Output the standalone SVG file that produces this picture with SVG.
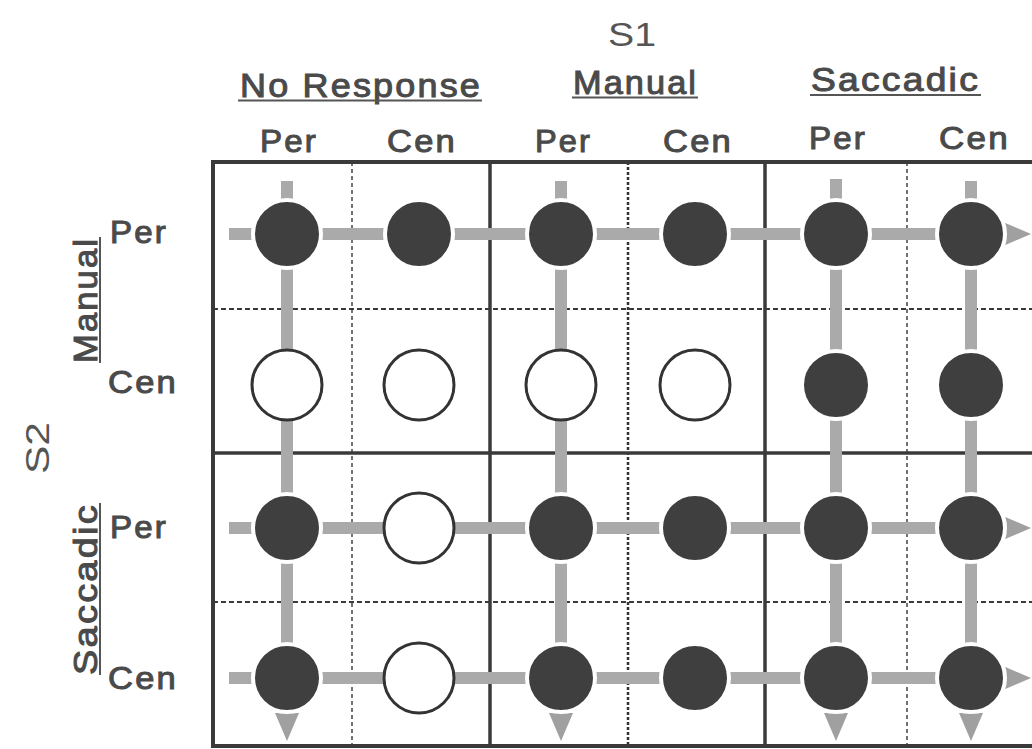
<svg xmlns="http://www.w3.org/2000/svg" width="1032" height="749" viewBox="0 0 1032 749">
<style>
.lbl{font-family:"Liberation Sans",Arial,sans-serif;fill:#4a4a4a;stroke:#4a4a4a;stroke-width:1;letter-spacing:2px;}
.big{font-family:"Liberation Sans",Arial,sans-serif;fill:#555;font-size:34px;}
.grp{font-size:33px;}
.sub{font-size:31px;}
.ul{stroke:#555;stroke-width:2;}
.frame{fill:none;stroke:#3a3a3a;stroke-width:4;}
.solid{stroke:#3a3a3a;stroke-width:3.5;}
.dash{stroke:#444;stroke-width:1.5;stroke-dasharray:4 3;}
.dot{stroke:#333;stroke-width:2.5;stroke-dasharray:3 2;}
.hdash{stroke:#3a3a3a;stroke-width:2;stroke-dasharray:5 3;}
.bar{stroke:#aaaaaa;stroke-width:12;fill:none;}
.full{fill:#3f3f3f;stroke:#ffffff;stroke-width:4;}
.open{fill:#ffffff;stroke:#333;stroke-width:3;}
</style>
<defs>
<marker id="arr" viewBox="0 0 28 24" refX="0" refY="12" markerWidth="28" markerHeight="24" markerUnits="userSpaceOnUse" orient="auto">
<path d="M0,0 L28,12 L0,24 Z" fill="#a0a0a0"/>
</marker>
</defs>
<rect width="1032" height="749" fill="#ffffff"/>

<g id="labels">
<text class="big" x="608" y="46" textLength="48" lengthAdjust="spacingAndGlyphs">S1</text>
<text class="big" transform="translate(49,474) rotate(-90)" textLength="52" lengthAdjust="spacingAndGlyphs">S2</text>

<text class="lbl grp" x="240" y="97" textLength="242" lengthAdjust="spacingAndGlyphs">No Response</text>
<line class="ul" x1="238" y1="100.5" x2="482" y2="100.5"/>
<text class="lbl grp" x="573" y="94" textLength="125" lengthAdjust="spacingAndGlyphs">Manual</text>
<line class="ul" x1="572" y1="97.5" x2="698" y2="97.5"/>
<text class="lbl grp" x="811" y="91" textLength="169" lengthAdjust="spacingAndGlyphs">Saccadic</text>
<line class="ul" x1="810" y1="95" x2="981" y2="95"/>

<text class="lbl sub" x="260" y="152" textLength="58" lengthAdjust="spacingAndGlyphs">Per</text>
<text class="lbl sub" x="387" y="152" textLength="70" lengthAdjust="spacingAndGlyphs">Cen</text>
<text class="lbl sub" x="535" y="152" textLength="57" lengthAdjust="spacingAndGlyphs">Per</text>
<text class="lbl sub" x="663" y="152" textLength="70" lengthAdjust="spacingAndGlyphs">Cen</text>
<text class="lbl sub" x="809" y="149" textLength="58" lengthAdjust="spacingAndGlyphs">Per</text>
<text class="lbl sub" x="939" y="149" textLength="71" lengthAdjust="spacingAndGlyphs">Cen</text>

<text class="lbl grp" transform="translate(97,363) rotate(-90)" textLength="126" lengthAdjust="spacingAndGlyphs">Manual</text>
<line class="ul" x1="100" y1="237" x2="100" y2="363"/>
<text class="lbl grp" transform="translate(97,675) rotate(-90)" textLength="172" lengthAdjust="spacingAndGlyphs">Saccadic</text>
<line class="ul" x1="100" y1="503" x2="100" y2="675"/>

<text class="lbl sub" x="110" y="243" textLength="58" lengthAdjust="spacingAndGlyphs">Per</text>
<text class="lbl sub" x="108" y="393" textLength="70" lengthAdjust="spacingAndGlyphs">Cen</text>
<text class="lbl sub" x="110" y="538" textLength="58" lengthAdjust="spacingAndGlyphs">Per</text>
<text class="lbl sub" x="108" y="689" textLength="70" lengthAdjust="spacingAndGlyphs">Cen</text>
</g>

<g id="grid">
<line class="dash" x1="352" y1="162" x2="352" y2="746"/>
<line class="dot" x1="628" y1="162" x2="628" y2="746"/>
<line class="dash" x1="907" y1="162" x2="907" y2="746"/>
<line class="hdash" x1="213" y1="309" x2="1046" y2="309"/>
<line class="hdash" x1="213" y1="602" x2="1046" y2="602"/>
<line class="solid" x1="490" y1="162" x2="490" y2="746"/>
<line class="solid" x1="765" y1="162" x2="765" y2="746"/>
<line class="solid" x1="213" y1="453" x2="1046" y2="453"/>
<rect class="frame" x="213" y="162" width="833" height="584"/>
</g>

<g id="connectors">
<line class="bar" x1="229" y1="234" x2="1003" y2="234" marker-end="url(#arr)"/>
<line class="bar" x1="229" y1="528" x2="1003" y2="528" marker-end="url(#arr)"/>
<line class="bar" x1="229" y1="678" x2="1003" y2="678" marker-end="url(#arr)"/>
<line class="bar" x1="287" y1="181" x2="287" y2="713" marker-end="url(#arr)"/>
<line class="bar" x1="561" y1="181" x2="561" y2="713" marker-end="url(#arr)"/>
<line class="bar" x1="836" y1="179" x2="836" y2="713" marker-end="url(#arr)"/>
<line class="bar" x1="971" y1="181" x2="971" y2="713" marker-end="url(#arr)"/>
</g>

<g id="r1c1"><circle class="full" cx="287" cy="234" r="34"/></g>
<g id="r1c2"><circle class="full" cx="419" cy="234" r="34"/></g>
<g id="r1c3"><circle class="full" cx="561" cy="234" r="34"/></g>
<g id="r1c4"><circle class="full" cx="695" cy="234" r="34"/></g>
<g id="r1c5"><circle class="full" cx="836" cy="234" r="34"/></g>
<g id="r1c6"><circle class="full" cx="971" cy="234" r="34"/></g>

<g id="r2c1"><circle class="open" cx="287" cy="385" r="35"/></g>
<g id="r2c2"><circle class="open" cx="419" cy="385" r="35"/></g>
<g id="r2c3"><circle class="open" cx="561" cy="385" r="35"/></g>
<g id="r2c4"><circle class="open" cx="695" cy="385" r="35"/></g>
<g id="r2c5"><circle class="full" cx="836" cy="385" r="34"/></g>
<g id="r2c6"><circle class="full" cx="971" cy="385" r="34"/></g>

<g id="r3c1"><circle class="full" cx="287" cy="528" r="34"/></g>
<g id="r3c2"><circle class="open" cx="419" cy="528" r="35"/></g>
<g id="r3c3"><circle class="full" cx="561" cy="528" r="34"/></g>
<g id="r3c4"><circle class="full" cx="695" cy="528" r="34"/></g>
<g id="r3c5"><circle class="full" cx="836" cy="528" r="34"/></g>
<g id="r3c6"><circle class="full" cx="971" cy="528" r="34"/></g>

<g id="r4c1"><circle class="full" cx="287" cy="678" r="34"/></g>
<g id="r4c2"><circle class="open" cx="419" cy="678" r="35"/></g>
<g id="r4c3"><circle class="full" cx="561" cy="678" r="34"/></g>
<g id="r4c4"><circle class="full" cx="695" cy="678" r="34"/></g>
<g id="r4c5"><circle class="full" cx="836" cy="678" r="34"/></g>
<g id="r4c6"><circle class="full" cx="971" cy="678" r="34"/></g>
</svg>
